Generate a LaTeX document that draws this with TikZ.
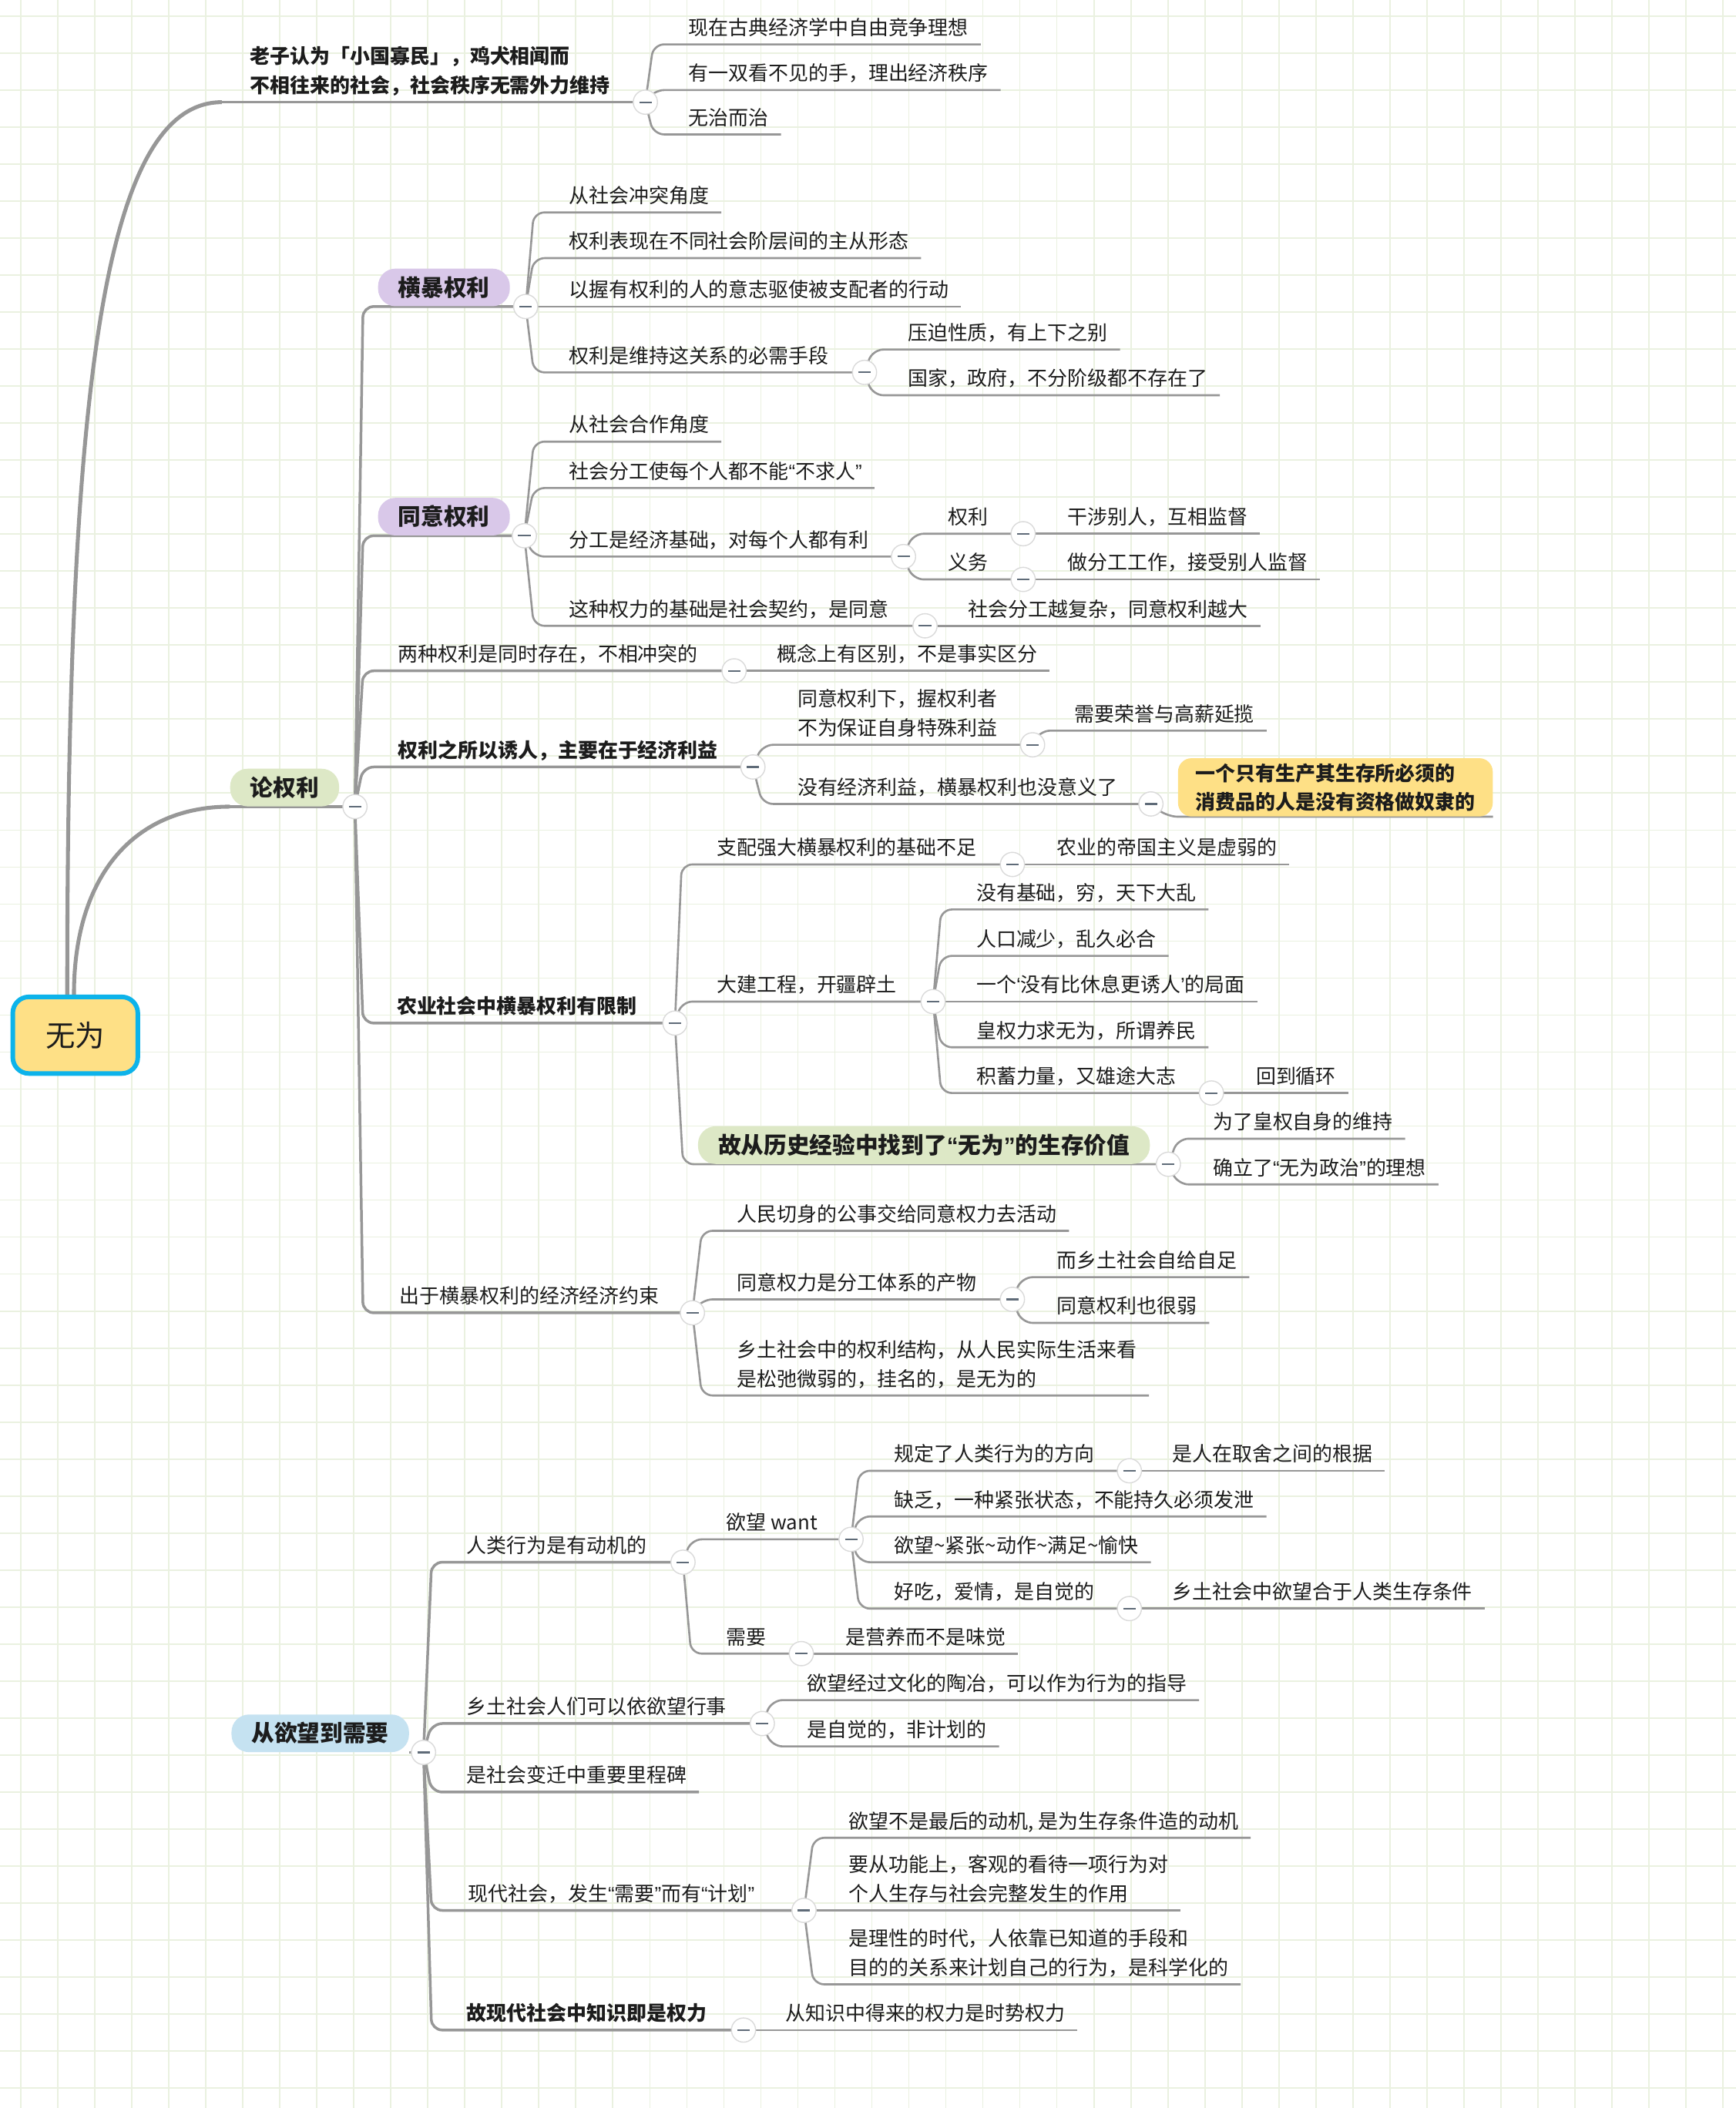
\documentclass[tikz,border=0pt]{standalone}
\usepackage{fontspec}
\setmainfont{Noto Sans CJK SC}
\newfontfamily\quotefont{Liberation Sans}
\newcommand{\openq}{{\quotefont “}}
\newcommand{\closeq}{{\quotefont ”}}
\newcommand{\opensq}{{\quotefont ‘}}
\newcommand{\closesq}{{\quotefont ’}}
\usepackage{xcolor}
\usepackage{tikz}

\definecolor{linegray}{HTML}{979797}
\definecolor{gridgreen}{HTML}{EAF1E0}
\definecolor{rootblue}{HTML}{0DB3EA}
\definecolor{rootyellow}{HTML}{FEE086}
\definecolor{pillgreen}{HTML}{DDE8C6}
\definecolor{pillpurple}{HTML}{D9C8E9}
\definecolor{pillblue}{HTML}{C5E2F1}
\definecolor{foldgray}{HTML}{DADADA}
\definecolor{dashgray}{HTML}{5F6B78}
\definecolor{ink}{HTML}{1C1C1C}

\pgfdeclarelayer{paper}
\pgfdeclarelayer{wires}
\pgfsetlayers{paper,wires,main}

\begin{document}
\begin{tikzpicture}[
    x=1pt, y=-1pt,
    every node/.style={text=ink},
    central/.style={draw=rootblue, line width=3.4pt, fill=rootyellow, rounded corners=12pt, minimum width=93pt, minimum height=57pt, font=\fontsize{22}{26}\selectfont},
    topic/.style={anchor=south west, inner sep=0pt, text depth=6.8pt, align=left, font=\fontsize{14.86}{21.5}\selectfont},
    bold topic/.style={topic, font=\fontsize{14.86}{21.5}\selectfont\bfseries},
    pill/.style={anchor=south west, rounded corners=13pt, minimum height=28pt, inner xsep=15pt, inner ysep=0pt, text height=14pt, text depth=1.2pt, font=\fontsize{17}{20}\selectfont\bfseries},
    note/.style={anchor=south west, fill=rootyellow, rounded corners=10pt, inner xsep=13pt, inner ysep=4pt, align=left, font=\fontsize{14.86}{21}\selectfont\bfseries},
    fold/.style={circle, draw=foldgray, line width=0.8pt, fill=white, minimum size=18pt, inner sep=0pt,
        path picture={\draw[line width=1.2pt, dashgray] ([xshift=-4.6pt]path picture bounding box.center) -- ([xshift=4.6pt]path picture bounding box.center);}},
    line/.style={draw=linegray, line width=1.5pt, rounded corners=8pt},
    branch/.style={line, line width=2pt},
    trunk/.style={draw=linegray, line width=2.9pt}
]
    \useasboundingbox (0,0) rectangle (1291,1568);

    % Paper
    \begin{pgfonlayer}{paper}
        \fill [white] (0,0) rectangle (1291,1568);
        \foreach \k in {0,...,46}
            \draw [gridgreen, line width=1pt] (15.5+27.52*\k,0) -- (15.5+27.52*\k,1568);
        \foreach \k in {0,...,56}
            \draw [gridgreen, line width=1pt] (0,12+27.52*\k) -- (1291,12+27.52*\k);
    \end{pgfonlayer}

    % Nodes
    \node [central] (root) at (56,770) {无为};

    \node [bold topic] (laozi) at (186,76) {老子认为「小国寡民」，鸡犬相闻而\\不相往来的社会，社会秩序无需外力维持};
    \node [fold] (laozi-f) at (480,76) {};
    \node [topic] (ziyou) at (512,33) {现在古典经济学中自由竞争理想};
    \node [topic] (shou) at (512,67) {有一双看不见的手，理出经济秩序};
    \node [topic] (wuzhi) at (512,100) {无治而治};

    \node [pill, fill=pillgreen] (lun) at (171,600) {论权利};
    \node [fold] (lun-f) at (264,600) {};

    \node [pill, fill=pillpurple] (hengbao) at (281,228) {横暴权利};
    \node [fold] (hengbao-f) at (391,228) {};
    \node [topic] (chongtu) at (423,158) {从社会冲突角度};
    \node [topic] (zhucong) at (423,192) {权利表现在不同社会阶层间的主从形态};
    \node [topic] (yizhi) at (423,228) {以握有权利的人的意志驱使被支配者的行动};
    \node [topic] (shouduan) at (423,277) {权利是维持这关系的必需手段};
    \node [fold] (shouduan-f) at (643,277) {};
    \node [topic] (yapo) at (675,260) {压迫性质，有上下之别};
    \node [topic] (guojia) at (675,294) {国家，政府，不分阶级都不存在了};

    \node [pill, fill=pillpurple] (tongyi) at (281,398.5) {同意权利};
    \node [fold] (tongyi-f) at (390,398.5) {};
    \node [topic] (hezuo) at (423,328.5) {从社会合作角度};
    \node [topic] (buqiuren) at (423,363) {社会分工使每个人都不能\openq 不求人\closeq};
    \node [topic] (fengong) at (423,414) {分工是经济基础，对每个人都有利};
    \node [fold] (fengong-f) at (672,414) {};
    \node [topic] (quanli) at (705,397) {权利};
    \node [fold] (quanli-f) at (761,397) {};
    \node [topic] (ganshe) at (794,397) {干涉别人，互相监督};
    \node [topic] (yiwu) at (705,431) {义务};
    \node [fold] (yiwu-f) at (761,431) {};
    \node [topic] (jiandu) at (794,431) {做分工工作，接受别人监督};
    \node [topic] (qiyue) at (423,465.5) {这种权力的基础是社会契约，是同意};
    \node [fold] (qiyue-f) at (688,465.5) {};
    \node [topic] (fuza) at (720,465.5) {社会分工越复杂，同意权利越大};

    \node [topic] (liangzhong) at (296,499) {两种权利是同时存在，不相冲突的};
    \node [fold] (liangzhong-f) at (546,499) {};
    \node [topic] (gainian) at (578,499) {概念上有区别，不是事实区分};

    \node [bold topic] (youren) at (296,570.5) {权利之所以诱人，主要在于经济利益};
    \node [fold] (youren-f) at (560,570.5) {};
    \node [topic] (xiaoyi) at (593,554) {同意权利下，握权利者\\不为保证自身特殊利益};
    \node [fold] (xiaoyi-f) at (768,554) {};
    \node [topic] (rongyu) at (799,543.5) {需要荣誉与高薪延揽};
    \node [topic] (meiyou) at (593,598) {没有经济利益，横暴权利也没意义了};
    \node [fold] (meiyou-f) at (856,598) {};
    \node [note] (nuli) at (876,607.5) {一个只有生产其生存所必须的\\消费品的人是没有资格做奴隶的};

    \node [bold topic] (nongye) at (295,761) {农业社会中横暴权利有限制};
    \node [fold] (nongye-f) at (502,761) {};
    \node [topic] (buzu) at (533,643) {支配强大横暴权利的基础不足};
    \node [fold] (buzu-f) at (753,643) {};
    \node [topic] (xuruo) at (786,643) {农业的帝国主义是虚弱的};
    \node [topic] (dajian) at (533,745) {大建工程，开疆辟土};
    \node [fold] (dajian-f) at (694,745) {};
    \node [topic] (qiong) at (726,676.5) {没有基础，穷，天下大乱};
    \node [topic] (renkou) at (726,711) {人口减少，乱久必合};
    \node [topic] (xiuxi) at (726,745) {一个\opensq 没有比休息更诱人\closesq 的局面};
    \node [topic] (yangmin) at (726,779) {皇权力求无为，所谓养民};
    \node [topic] (jixu) at (726,813) {积蓄力量，又雄途大志};
    \node [fold] (jixu-f) at (901,813) {};
    \node [topic] (xunhuan) at (934,813) {回到循环};
    \node [pill, fill=pillgreen] (wuwei) at (519,866) {故从历史经验中找到了\openq 无为\closeq 的生存价值};
    \node [fold] (wuwei-f) at (869,866) {};
    \node [topic] (weichi) at (902,847) {为了皇权自身的维持};
    \node [topic] (lixiang) at (902,881) {确立了\openq 无为政治\closeq 的理想};

    \node [topic] (jingji) at (297,976.5) {出于横暴权利的经济经济约束};
    \node [fold] (jingji-f) at (515,976.5) {};
    \node [topic] (gongshi) at (548,915.5) {人民切身的公事交给同意权力去活动};
    \node [topic] (chanwu) at (548,966.5) {同意权力是分工体系的产物};
    \node [fold] (chanwu-f) at (753,966.5) {};
    \node [topic] (zizu) at (786,950) {而乡土社会自给自足};
    \node [topic] (henruo) at (786,984) {同意权利也很弱};
    \node [topic] (songchi) at (548,1038) {乡土社会中的权利结构，从人民实际生活来看\\是松弛微弱的，挂名的，是无为的};

    \node [pill, fill=pillblue] (yuwang) at (172,1303.5) {从欲望到需要};
    \node [fold] (yuwang-f) at (315,1303.5) {};
    \node [topic] (dongji) at (347,1162) {人类行为是有动机的};
    \node [fold] (dongji-f) at (508,1162) {};
    \node [topic] (want) at (540,1145) {欲望 want};
    \node [fold] (want-f) at (633,1145) {};
    \node [topic] (fangxiang) at (665,1094) {规定了人类行为的方向};
    \node [fold] (fangxiang-f) at (840,1094) {};
    \node [topic] (genju) at (872,1094) {是人在取舍之间的根据};
    \node [topic] (quefa) at (665,1128) {缺乏，一种紧张状态，不能持久必须发泄};
    \node [topic] (yukuai) at (665,1162) {欲望\textasciitilde 紧张\textasciitilde 动作\textasciitilde 满足\textasciitilde 愉快};
    \node [topic] (haochi) at (665,1196.5) {好吃，爱情，是自觉的};
    \node [fold] (haochi-f) at (840,1196.5) {};
    \node [topic] (shengcun) at (872,1196.5) {乡土社会中欲望合于人类生存条件};
    \node [topic] (xuyao) at (540,1230) {需要};
    \node [fold] (xuyao-f) at (596,1230) {};
    \node [topic] (yingyang) at (629,1230) {是营养而不是味觉};
    \node [topic] (xingshi) at (347,1282) {乡土社会人们可以依欲望行事};
    \node [fold] (xingshi-f) at (567,1282) {};
    \node [topic] (taoye) at (600,1264.6) {欲望经过文化的陶冶，可以作为行为的指导};
    \node [topic] (zijue) at (600,1299) {是自觉的，非计划的};
    \node [topic] (lichengbei) at (347,1333) {是社会变迁中重要里程碑};
    \node [topic] (xiandai) at (348,1421) {现代社会，发生\openq 需要\closeq 而有\openq 计划\closeq};
    \node [fold] (xiandai-f) at (598,1421) {};
    \node [topic] (zuihou) at (631,1367) {欲望不是最后的动机, 是为生存条件造的动机};
    \node [topic] (gongneng) at (631,1421) {要从功能上，客观的看待一项行为对\\个人生存与社会完整发生的作用};
    \node [topic] (lixing) at (631,1476) {是理性的时代，人依靠已知道的手段和\\目的的关系来计划自己的行为，是科学化的};
    \node [bold topic] (zhishi) at (347,1510) {故现代社会中知识即是权力};
    \node [fold] (zhishi-f) at (553,1510) {};
    \node [topic] (shishi) at (584,1510) {从知识中得来的权力是时势权力};

    % Paths
    \begin{pgfonlayer}{wires}
    \path [trunk] ([xshift=-6pt]root.north) .. controls +(0,-440) and +(-90,0) .. ([xshift=-21pt]laozi.south west);
    \path [trunk] ([xshift=-1pt]root.north) .. controls +(0,-90) and +(-70,0) .. (lun.south west);
    \path [branch] ([xshift=-21pt]laozi.south west) -- (laozi-f.center);
    \path [branch] (lun.south west) -- (lun-f.center);

    \path [line] (laozi-f.center) -- ([xshift=-26pt]ziyou.south west) -- ([xshift=9pt]ziyou.south east);
    \path [line] (laozi-f.center) -- ([xshift=-26pt]shou.south west) -- ([xshift=9pt]shou.south east);
    \path [line] (laozi-f.center) -- ([xshift=-26pt]wuzhi.south west) -- ([xshift=9pt]wuzhi.south east);

    \path [branch] (lun-f.center) -- ([xshift=-11pt]hengbao.south west) -- (hengbao-f.center);
    \path [branch] (lun-f.center) -- ([xshift=-11pt]tongyi.south west) -- (tongyi-f.center);
    \path [branch] (lun-f.center) -- ([xshift=-26pt]liangzhong.south west) -- (liangzhong-f.center);
    \path [branch] (lun-f.center) -- ([xshift=-26pt]youren.south west) -- (youren-f.center);
    \path [branch] (lun-f.center) -- ([xshift=-25pt]nongye.south west) -- (nongye-f.center);
    \path [branch] (lun-f.center) -- ([xshift=-27pt]jingji.south west) -- (jingji-f.center);

    \path [line] (hengbao-f.center) -- ([xshift=-26pt]chongtu.south west) -- ([xshift=9pt]chongtu.south east);
    \path [line] (hengbao-f.center) -- ([xshift=-26pt]zhucong.south west) -- ([xshift=9pt]zhucong.south east);
    \path [line] (hengbao-f.center) -- ([xshift=9pt]yizhi.south east);
    \path [line] (hengbao-f.center) -- ([xshift=-26pt]shouduan.south west) -- (shouduan-f.center);
    \path [line] (shouduan-f.center) -- ([xshift=-26pt]yapo.south west) -- ([xshift=9pt]yapo.south east);
    \path [line] (shouduan-f.center) -- ([xshift=-26pt]guojia.south west) -- ([xshift=9pt]guojia.south east);

    \path [line] (tongyi-f.center) -- ([xshift=-26pt]hezuo.south west) -- ([xshift=9pt]hezuo.south east);
    \path [line] (tongyi-f.center) -- ([xshift=-26pt]buqiuren.south west) -- ([xshift=9pt]buqiuren.south east);
    \path [line] (tongyi-f.center) -- ([xshift=-26pt]fengong.south west) -- (fengong-f.center);
    \path [line] (tongyi-f.center) -- ([xshift=-26pt]qiyue.south west) -- (qiyue-f.center);
    \path [line] (fengong-f.center) -- ([xshift=-26pt]quanli.south west) -- (quanli-f.center);
    \path [line] (fengong-f.center) -- ([xshift=-26pt]yiwu.south west) -- (yiwu-f.center);
    \path [line] (quanli-f.center) -- ([xshift=9pt]ganshe.south east);
    \path [line] (yiwu-f.center) -- ([xshift=9pt]jiandu.south east);
    \path [line] (qiyue-f.center) -- ([xshift=9pt]fuza.south east);

    \path [line] (liangzhong-f.center) -- ([xshift=9pt]gainian.south east);

    \path [line] (youren-f.center) -- ([xshift=-26pt]xiaoyi.south west) -- (xiaoyi-f.center);
    \path [line] (youren-f.center) -- ([xshift=-26pt]meiyou.south west) -- (meiyou-f.center);
    \path [line] (xiaoyi-f.center) -- ([xshift=-26pt]rongyu.south west) -- ([xshift=9pt]rongyu.south east);
    \path [line] (meiyou-f.center) -- ([xshift=-8pt]nuli.south west) -- (nuli.south east);

    \path [line] (nongye-f.center) -- ([xshift=-26pt]buzu.south west) -- (buzu-f.center);
    \path [line] (nongye-f.center) -- ([xshift=-26pt]dajian.south west) -- (dajian-f.center);
    \path [line] (nongye-f.center) -- ([xshift=-11pt]wuwei.south west) -- (wuwei-f.center);
    \path [line] (buzu-f.center) -- ([xshift=9pt]xuruo.south east);
    \path [line] (dajian-f.center) -- ([xshift=-26pt]qiong.south west) -- ([xshift=9pt]qiong.south east);
    \path [line] (dajian-f.center) -- ([xshift=-26pt]renkou.south west) -- ([xshift=9pt]renkou.south east);
    \path [line] (dajian-f.center) -- ([xshift=9pt]xiuxi.south east);
    \path [line] (dajian-f.center) -- ([xshift=-26pt]yangmin.south west) -- ([xshift=9pt]yangmin.south east);
    \path [line] (dajian-f.center) -- ([xshift=-26pt]jixu.south west) -- (jixu-f.center);
    \path [line] (jixu-f.center) -- ([xshift=9pt]xunhuan.south east);
    \path [line] (wuwei-f.center) -- ([xshift=-26pt]weichi.south west) -- ([xshift=9pt]weichi.south east);
    \path [line] (wuwei-f.center) -- ([xshift=-26pt]lixiang.south west) -- ([xshift=9pt]lixiang.south east);

    \path [line] (jingji-f.center) -- ([xshift=-26pt]gongshi.south west) -- ([xshift=9pt]gongshi.south east);
    \path [line] (jingji-f.center) -- ([xshift=-26pt]chanwu.south west) -- (chanwu-f.center);
    \path [line] (jingji-f.center) -- ([xshift=-26pt]songchi.south west) -- ([xshift=9pt]songchi.south east);
    \path [line] (chanwu-f.center) -- ([xshift=-26pt]zizu.south west) -- ([xshift=9pt]zizu.south east);
    \path [line] (chanwu-f.center) -- ([xshift=-26pt]henruo.south west) -- ([xshift=9pt]henruo.south east);

    \path [branch] (yuwang.south east) -- (yuwang-f.center);
    \path [branch] (yuwang-f.center) -- ([xshift=-26pt]dongji.south west) -- (dongji-f.center);
    \path [branch] (yuwang-f.center) -- ([xshift=-26pt]xingshi.south west) -- (xingshi-f.center);
    \path [branch] (yuwang-f.center) -- ([xshift=-26pt]lichengbei.south west) -- ([xshift=9pt]lichengbei.south east);
    \path [branch] (yuwang-f.center) -- ([xshift=-27pt]xiandai.south west) -- (xiandai-f.center);
    \path [branch] (yuwang-f.center) -- ([xshift=-26pt]zhishi.south west) -- (zhishi-f.center);

    \path [line] (dongji-f.center) -- ([xshift=-26pt]want.south west) -- (want-f.center);
    \path [line] (dongji-f.center) -- ([xshift=-26pt]xuyao.south west) -- (xuyao-f.center);
    \path [line] (want-f.center) -- ([xshift=-26pt]fangxiang.south west) -- (fangxiang-f.center);
    \path [line] (want-f.center) -- ([xshift=-26pt]quefa.south west) -- ([xshift=9pt]quefa.south east);
    \path [line] (want-f.center) -- ([xshift=-26pt]yukuai.south west) -- ([xshift=9pt]yukuai.south east);
    \path [line] (want-f.center) -- ([xshift=-26pt]haochi.south west) -- (haochi-f.center);
    \path [line] (fangxiang-f.center) -- ([xshift=9pt]genju.south east);
    \path [line] (haochi-f.center) -- ([xshift=9pt]shengcun.south east);
    \path [line] (xuyao-f.center) -- ([xshift=9pt]yingyang.south east);
    \path [line] (xingshi-f.center) -- ([xshift=-26pt]taoye.south west) -- ([xshift=9pt]taoye.south east);
    \path [line] (xingshi-f.center) -- ([xshift=-26pt]zijue.south west) -- ([xshift=9pt]zijue.south east);
    \path [line] (xiandai-f.center) -- ([xshift=-26pt]zuihou.south west) -- ([xshift=9pt]zuihou.south east);
    \path [line] (xiandai-f.center) -- ([xshift=9pt]gongneng.south east);
    \path [line] (xiandai-f.center) -- ([xshift=-26pt]lixing.south west) -- ([xshift=9pt]lixing.south east);
    \path [line] (zhishi-f.center) -- ([xshift=9pt]shishi.south east);
    \end{pgfonlayer}

\end{tikzpicture}
\end{document}
